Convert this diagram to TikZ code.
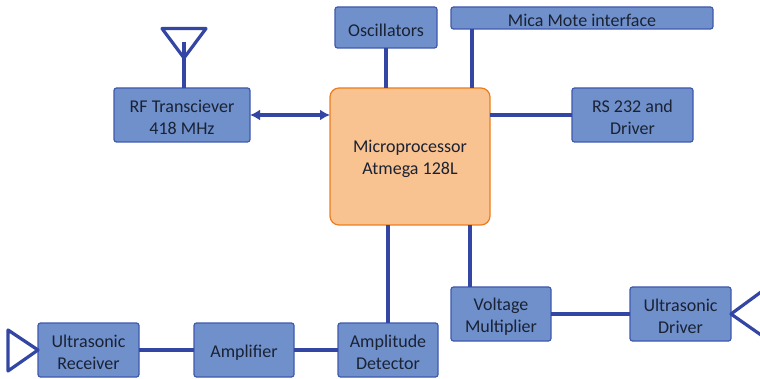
\documentclass[tikz,border=0pt]{standalone}
\usepackage{fontspec}
\setmainfont{Carlito}
\usetikzlibrary{arrows.meta}
\definecolor{blockfill}{HTML}{7090CC}
\definecolor{blockline}{HTML}{3F58AE}
\definecolor{wirecol}{HTML}{3346A3}
\definecolor{cpufill}{HTML}{F9C291}
\definecolor{cpuline}{HTML}{ED7D1C}
\definecolor{textcol}{HTML}{1A2233}
\newcommand{\lift}{\rule{0pt}{17.5pt}}
\tikzset{
  block/.style={draw=blockline, fill=blockfill, line width=1.2, rounded corners=2.5,
    text=textcol, font=\fontsize{18}{21.5}\selectfont, align=center, inner sep=0, outer sep=0},
  cpublock/.style={block, draw=cpuline, fill=cpufill, rounded corners=9},
  wire/.style={draw=wirecol, line width=3.6},
  aerial/.style={draw=wirecol, line width=3.2, line join=round}
}
\begin{document}
\begin{tikzpicture}[x=1pt,y=-1pt]
  \useasboundingbox (0,0) rectangle (760,379);
  \clip (0,0) rectangle (760,379);
  \node[cpublock, minimum width=160, minimum height=137] (micro) at (410,156.5) {\lift Microprocessor\\Atmega 128L};
  \node[block, minimum width=136, minimum height=54] (rf) at (182,115) {\lift RF Transciever\\418 MHz};
  \node[block, minimum width=102, minimum height=41] (osc) at (386,27.5) {\lift Oscillators};
  \node[block, minimum width=262, minimum height=22] (mica) at (582,18) {\lift Mica Mote interface};
  \node[block, minimum width=121, minimum height=54] (rs) at (632.5,115) {\lift RS 232 and\\Driver};
  \node[block, minimum width=100, minimum height=54] (volt) at (501,314) {\lift Voltage\\Multiplier};
  \node[block, minimum width=101, minimum height=54] (drv) at (680.5,314) {\lift Ultrasonic\\Driver};
  \node[block, minimum width=101, minimum height=54] (recv) at (88.5,350) {\lift Ultrasonic\\Receiver};
  \node[block, minimum width=100, minimum height=54] (amp) at (244,350) {\lift Amplifier};
  \node[block, minimum width=100, minimum height=54] (det) at (388,350) {\lift Amplitude\\Detector};

  \coordinate (micatap) at (472,29);
  \coordinate (volttap) at (470,287);
  \coordinate (rftip) at (184,42);
  \coordinate (rfapex) at (184,58);

  \draw[wire] (osc.south) -- (osc.south |- micro.north);
  \draw[wire] (micatap) -- (micatap |- micro.north);
  \draw[wire] (rs.west) -- (rs.west -| micro.east);
  \draw[wire] (det.north) -- (det.north |- micro.south);
  \draw[wire] (volttap) -- (volttap |- micro.south);
  \draw[wire] (volt.east) -- (drv.west);
  \draw[wire] (recv.east) -- (recv.east -| amp.west);
  \draw[wire] (amp.east) -- (det.west);
  \draw[wire, <->, >={Latex[length=10,width=11]}] (rf.east) -- (rf.east -| micro.west);

  \draw[aerial] (162,28.5) -- (206,28.5) -- (rfapex) -- cycle;
  \draw[wire] (rftip) -- (rftip |- rf.north);
  \draw[aerial] (recv.west) -- (8,330) -- (8,371) -- cycle;
  \draw[aerial] (761,292) -- (drv.east) -- (761,335);
\end{tikzpicture}
\end{document}
